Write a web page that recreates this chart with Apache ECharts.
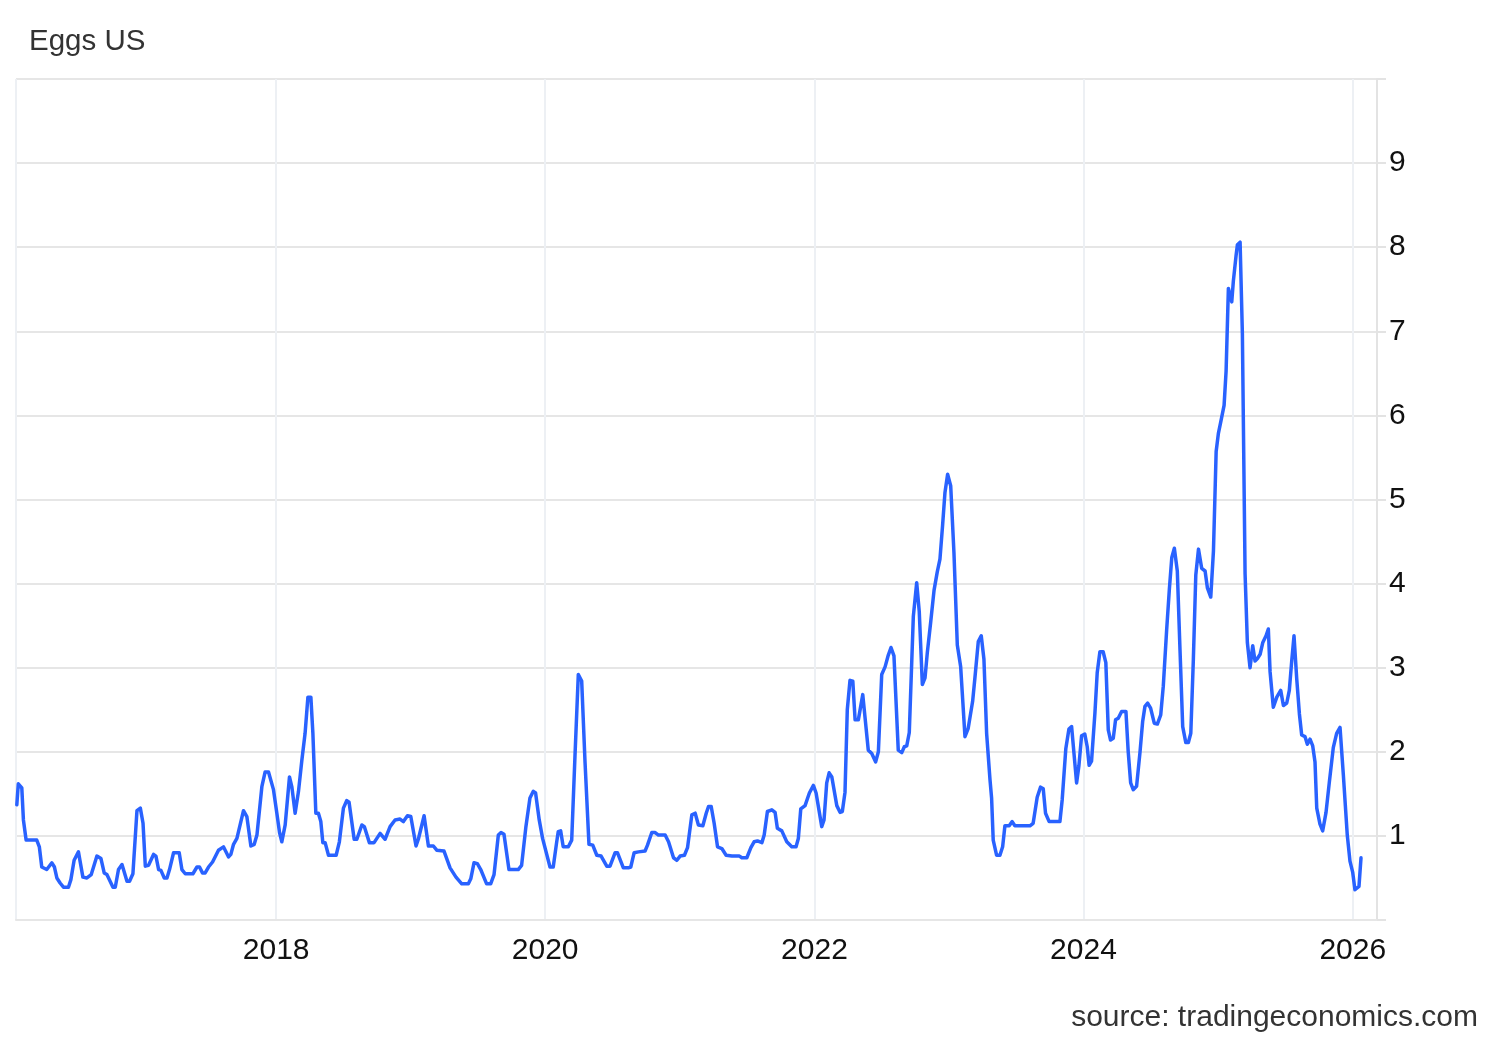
<!DOCTYPE html>
<html><head><meta charset="utf-8">
<script src="https://cdn.jsdelivr.net/npm/echarts@6/dist/echarts.min.js"></script>
<style>html,body{margin:0;padding:0;background:#fff}#c{width:1500px;height:1040px}</style>
</head><body><div id="c"></div>
<script>
const titleText = 'Eggs US';
const sourceText = 'source: tradingeconomics.com';
const xRange = [2016.068, 2026.18];
const yRange = [0, 10];
const years = [
2016.074,2016.085,2016.111,2016.123,2016.143,2016.222,2016.241,2016.259,2016.296,2016.334,2016.353,2016.371,2016.395,2016.420,2016.457,2016.475,2016.499,2016.531,2016.564,2016.594,2016.626,2016.668,2016.698,2016.722,2016.742,2016.787,2016.804,2016.828,2016.854,2016.891,2016.910,2016.935,2016.965,2016.990,
2017.010,2017.027,2017.051,2017.088,2017.106,2017.126,2017.143,2017.168,2017.188,2017.207,2017.237,2017.279,2017.299,2017.324,2017.381,2017.411,2017.430,2017.452,2017.472,2017.497,2017.527,2017.571,2017.608,2017.646,2017.663,2017.683,2017.708,2017.757,2017.782,2017.812,2017.837,2017.857,2017.894,2017.918,2017.943,2017.980,
2018.005,2018.025,2018.042,2018.067,2018.099,2018.117,2018.141,2018.166,2018.191,2018.215,2018.236,2018.258,2018.273,2018.295,2018.314,2018.332,2018.347,2018.364,2018.389,2018.446,2018.470,2018.500,2018.525,2018.542,2018.580,2018.600,2018.637,2018.656,2018.693,2018.728,2018.773,2018.810,2018.847,2018.884,2018.921,2018.946,2018.976,
2019.001,2019.040,2019.057,2019.100,2019.132,2019.169,2019.194,2019.248,2019.293,2019.337,2019.380,2019.429,2019.447,2019.471,2019.496,2019.521,2019.565,2019.595,2019.620,2019.652,2019.672,2019.694,2019.731,2019.800,2019.825,2019.857,2019.887,2019.912,2019.929,2019.956,2019.981,
2020.036,2020.060,2020.085,2020.097,2020.115,2020.134,2020.172,2020.197,2020.221,2020.246,2020.271,2020.296,2020.325,2020.353,2020.383,2020.415,2020.457,2020.481,2020.519,2020.536,2020.580,2020.617,2020.635,2020.660,2020.692,2020.741,2020.759,2020.791,2020.816,2020.840,2020.890,2020.915,2020.952,2020.977,
2021.001,2021.033,2021.056,2021.088,2021.113,2021.137,2021.170,2021.195,2021.212,2021.232,2021.254,2021.279,2021.311,2021.343,2021.386,2021.442,2021.460,2021.497,2021.527,2021.551,2021.576,2021.609,2021.626,2021.650,2021.683,2021.707,2021.724,2021.757,2021.794,2021.831,2021.863,2021.880,2021.898,2021.930,2021.962,2021.992,
2022.012,2022.054,2022.071,2022.091,2022.109,2022.129,2022.166,2022.190,2022.207,2022.227,2022.244,2022.264,2022.285,2022.302,2022.326,2022.359,2022.400,2022.426,2022.455,2022.475,2022.500,2022.525,2022.549,2022.569,2022.591,2022.623,2022.649,2022.668,2022.686,2022.705,2022.735,2022.760,2022.779,2022.802,2022.822,2022.839,2022.864,2022.889,2022.913,2022.933,2022.953,2022.970,2022.990,
2023.013,2023.037,2023.062,2023.087,2023.119,2023.143,2023.176,2023.193,2023.218,2023.240,2023.260,2023.280,2023.305,2023.317,2023.329,2023.354,2023.379,2023.399,2023.416,2023.448,2023.470,2023.490,2023.602,2023.626,2023.656,2023.681,2023.701,2023.718,2023.745,2023.825,2023.842,2023.869,2023.892,2023.912,2023.929,2023.949,2023.966,2023.986,
2024.010,2024.028,2024.042,2024.060,2024.085,2024.102,2024.122,2024.146,2024.166,2024.184,2024.201,2024.221,2024.238,2024.258,2024.283,2024.315,2024.332,2024.350,2024.369,2024.394,2024.419,2024.439,2024.456,2024.476,2024.498,2024.525,2024.548,2024.573,2024.592,2024.617,2024.637,2024.655,2024.674,2024.696,2024.716,2024.736,2024.759,2024.778,2024.796,2024.815,2024.833,2024.853,2024.877,2024.902,2024.919,2024.944,2024.964,2024.984,
2025.001,2025.019,2025.043,2025.058,2025.075,2025.088,2025.100,2025.112,2025.132,2025.142,2025.162,2025.179,2025.199,2025.216,2025.236,2025.256,2025.273,2025.291,2025.311,2025.331,2025.355,2025.372,2025.385,2025.409,2025.435,2025.464,2025.484,2025.509,2025.528,2025.546,2025.563,2025.583,2025.603,2025.620,2025.645,2025.662,2025.682,2025.702,2025.719,2025.732,2025.756,2025.776,2025.801,2025.825,2025.855,2025.880,2025.905,2025.930,2025.959,2025.979,2025.999,
2026.016,2026.046,2026.061
];
const prices = [
1.37,1.62,1.57,1.19,0.95,0.95,0.87,0.63,0.60,0.68,0.63,0.50,0.44,0.39,0.39,0.48,0.71,0.81,0.51,0.50,0.54,0.76,0.73,0.56,0.54,0.39,0.39,0.60,0.66,0.46,0.46,0.55,1.30,1.33,
1.15,0.64,0.65,0.78,0.76,0.60,0.59,0.50,0.50,0.60,0.80,0.80,0.60,0.55,0.55,0.63,0.63,0.56,0.56,0.63,0.69,0.83,0.87,0.75,0.78,0.90,0.97,1.30,1.23,0.88,0.90,1.01,1.59,1.76,1.76,1.55,
1.27,1.04,0.93,1.13,1.70,1.58,1.27,1.53,1.90,2.22,2.65,2.65,2.22,1.27,1.27,1.17,0.92,0.92,0.77,0.77,0.93,1.33,1.42,1.40,0.96,0.96,1.13,1.11,0.92,0.92,1.03,0.96,1.11,1.19,1.20,1.17,1.24,
1.23,0.88,0.96,1.24,0.88,0.88,0.83,0.82,0.62,0.51,0.43,0.43,0.49,0.68,0.67,0.60,0.43,0.43,0.54,1.01,1.04,1.02,0.60,0.60,0.65,1.11,1.45,1.53,1.51,1.19,0.97,
0.63,0.63,0.92,1.05,1.06,0.87,0.87,0.95,1.94,2.92,2.84,1.87,0.90,0.89,0.77,0.76,0.64,0.64,0.80,0.80,0.62,0.62,0.63,0.80,0.81,0.82,0.89,1.04,1.04,1.01,1.01,0.93,0.74,0.71,
0.76,0.77,0.86,1.25,1.27,1.13,1.12,1.27,1.35,1.35,1.15,0.87,0.85,0.77,0.76,0.76,0.74,0.74,0.86,0.93,0.94,0.92,1.01,1.29,1.31,1.28,1.09,1.06,0.93,0.87,0.87,0.97,1.32,1.36,1.51,1.60,
1.51,1.11,1.19,1.63,1.75,1.70,1.36,1.28,1.29,1.52,2.50,2.85,2.84,2.38,2.38,2.68,2.02,1.98,1.88,2.00,2.92,3.01,3.15,3.24,3.14,2.02,1.99,2.06,2.07,2.23,3.61,4.01,3.67,2.80,2.88,3.18,3.54,3.92,4.14,4.29,4.70,5.08,5.30,
5.16,4.37,3.27,3.01,2.18,2.28,2.60,2.88,3.31,3.38,3.10,2.22,1.67,1.45,0.95,0.77,0.77,0.87,1.12,1.12,1.17,1.12,1.12,1.15,1.46,1.58,1.56,1.27,1.17,1.17,1.43,2.04,2.27,2.30,1.99,1.63,1.83,2.19,
2.21,2.06,1.84,1.89,2.46,2.94,3.19,3.19,3.06,2.26,2.14,2.16,2.38,2.40,2.48,2.48,2.00,1.63,1.55,1.59,1.99,2.36,2.54,2.58,2.52,2.34,2.33,2.44,2.78,3.45,3.93,4.31,4.42,4.15,3.21,2.30,2.11,2.11,2.22,3.10,4.10,4.41,4.18,4.15,3.95,3.84,4.39,5.57,
5.79,5.93,6.12,6.53,7.51,7.50,7.35,7.60,7.90,8.03,8.06,6.97,4.12,3.30,3.00,3.26,3.08,3.11,3.16,3.30,3.38,3.46,2.95,2.53,2.65,2.73,2.55,2.58,2.73,3.08,3.38,2.87,2.45,2.20,2.18,2.09,2.15,2.07,1.88,1.33,1.14,1.06,1.28,1.63,2.05,2.22,2.29,1.72,1.01,0.70,0.57,
0.36,0.40,0.74
];

function toTs(y) {
  const Y = Math.floor(y);
  const a = Date.UTC(Y, 0, 1), b = Date.UTC(Y + 1, 0, 1);
  return a + (y - Y) * (b - a);
}
const seriesData = years.map((y, i) => [toTs(y), prices[i]]);

const chart = echarts.init(document.getElementById('c'), null, {renderer: 'canvas'});
const FONT = '"Liberation Sans", Arial, sans-serif';
chart.setOption({
  useUTC: true,
  animation: false,
  backgroundColor: '#ffffff',
  grid: {left: 16, right: 123, top: 79, bottom: 120, containLabel: false},
  graphic: [
    {type: 'text', left: 29, top: 27, style: {text: titleText, fill: '#333333', font: '29.5px ' + FONT}},
    {type: 'text', right: 22, top: 1003, style: {text: sourceText, fill: '#333333', font: '30px ' + FONT}}
  ],
  xAxis: {
    type: 'time',
    min: toTs(xRange[0]),
    max: toTs(xRange[1]),
    splitNumber: 5,
    axisLine: {show: true, lineStyle: {color: '#e6e6e6', width: 2}},
    axisTick: {show: false},
    axisLabel: {
      color: '#111111', fontSize: 30, fontFamily: FONT, margin: 16,
      formatter: v => String(new Date(v).getUTCFullYear())
    },
    splitLine: {show: true, lineStyle: {color: '#edf0f4', width: 2}}
  },
  yAxis: {
    type: 'value',
    position: 'right',
    min: yRange[0], max: yRange[1], interval: 1,
    axisLine: {show: true, lineStyle: {color: '#e3e3e3', width: 2}},
    axisTick: {show: true, length: 9, lineStyle: {color: '#e3e3e3', width: 2}},
    axisLabel: {
      color: '#111111', fontSize: 30, fontFamily: FONT, margin: 12,
      padding: [3, 0, 0, 0],
      formatter: v => (v <= yRange[0] || v >= yRange[1]) ? '' : String(v)
    },
    splitLine: {show: true, lineStyle: {color: '#e6e6e6', width: 2}}
  },
  series: [{
    type: 'line',
    data: seriesData,
    showSymbol: false,
    symbol: 'none',
    smooth: false,
    lineStyle: {color: '#2962ff', width: 3.5, join: 'round', cap: 'round'},
    z: 5
  }]
});
</script></body></html>
